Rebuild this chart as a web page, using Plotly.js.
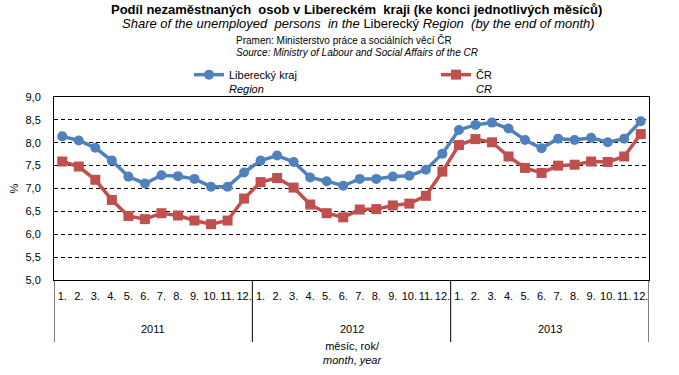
<!DOCTYPE html>
<html><head><meta charset="utf-8">
<script src="https://cdn.plot.ly/plotly-3.0.1.min.js"></script>
<style>body{margin:0;background:#fff}#chart{width:679px;height:375px}</style>
</head><body><div id="chart"></div>
<script>
const years = ['2011','2012','2013'];
const months = ['1.','2.','3.','4.','5.','6.','7.','8.','9.','10.','11.','12.'];
const liberec = [8.14,8.05,7.89,7.61,7.26,7.11,7.29,7.27,7.21,7.04,7.04,7.35,
                 7.61,7.72,7.58,7.24,7.16,7.06,7.21,7.21,7.26,7.28,7.41,7.76,
                 8.28,8.39,8.44,8.31,8.06,7.88,8.09,8.06,8.11,8.01,8.09,8.47];
const cr = [7.59,7.48,7.19,6.75,6.40,6.33,6.46,6.41,6.30,6.22,6.30,6.78,
            7.14,7.23,7.02,6.65,6.46,6.37,6.54,6.55,6.63,6.67,6.84,7.37,
            7.95,8.08,8.01,7.70,7.45,7.34,7.50,7.52,7.59,7.58,7.70,8.19];
const yTicks = [5,5.5,6,6.5,7,7.5,8,8.5,9];

const xCat = [], xText = [];
years.forEach(y => months.forEach(m => { xCat.push(y + ' ' + m); xText.push(m); }));
const nCat = xCat.length, nM = months.length;

const font = 'Liberation Sans, Arial, sans-serif';
const T = 97, B = 280, H = B - T;
const py = px => (B - px) / H;   // container pixel row -> paper y

const traces = [
  {x:xCat, y:liberec, name:'Liberecký kraj<br><i>Region</i>', type:'scatter', mode:'lines+markers',
   line:{color:'#4F81BD', width:3.5}, marker:{symbol:'circle', size:10, color:'#4F81BD'}},
  {x:xCat, y:cr, name:'ČR<br><i>CR</i>', type:'scatter', mode:'lines+markers',
   line:{color:'#C0504D', width:3.5}, marker:{symbol:'square', size:10, color:'#C0504D'}}
];

const shapes = [], annotations = [];
for (let g = 0; g <= years.length; g++) {
  shapes.push({type:'line', xref:'x', yref:'paper', x0:g*nM-0.5, x1:g*nM-0.5, y0:0, y1:py(342),
               line:{color:'#000', width:1}});
}
years.forEach((y, g) => annotations.push({text:y, xref:'x', yref:'paper', x:g*nM + (nM-1)/2, y:py(329),
  xanchor:'center', yanchor:'middle', showarrow:false, font:{size:11, family:font}}));

annotations.push(
  {text:'<b>Podíl nezaměstnaných  osob v Libereckém  kraji (ke konci jednotlivých měsíců)</b>', xref:'paper', yref:'paper',
   x:(356-54)/595, y:py(10), xanchor:'center', yanchor:'middle', showarrow:false, font:{size:13, family:font}},
  {text:'<i>Share of the unemployed  persons  in the</i> Liberecký <i>Region  (by the end of month)</i>', xref:'paper', yref:'paper',
   x:(358-54)/595, y:py(23), xanchor:'center', yanchor:'middle', showarrow:false, font:{size:13, family:font}},
  {text:'Pramen: Ministerstvo práce a sociálních věcí ČR', xref:'paper', yref:'paper',
   x:(234-54)/595, y:py(40), xanchor:'left', yanchor:'middle', showarrow:false, font:{size:10, family:font}},
  {text:'<i>Source: Ministry of Labour and Social Affairs of the CR</i>', xref:'paper', yref:'paper',
   x:(234-54)/595, y:py(53), xanchor:'left', yanchor:'middle', showarrow:false, font:{size:10, family:font}},
  {text:'měsíc, rok/<br><i>month</i>, <i>year</i>', xref:'paper', yref:'paper',
   x:(352-54)/595, y:py(353), xanchor:'center', yanchor:'middle', showarrow:false, font:{size:11, family:font}}
);

const layout = {
  width:679, height:375, separators:', ',
  margin:{l:54, r:30, t:T, b:375-B, autoexpand:false},
  paper_bgcolor:'#fff', plot_bgcolor:'#fff',
  font:{family:font, size:11, color:'#000'},
  showlegend:true,
  legend:{orientation:'h', x:(189-54)/595, y:py(61), xanchor:'left', yanchor:'top',
          bgcolor:'rgba(0,0,0,0)',
          entrywidth:202, entrywidthmode:'pixels', valign:'top', font:{size:11, family:font}, tracegroupgap:0},
  xaxis:{type:'category', automargin:false, range:[-0.5, nCat-0.5], tickvals:xCat, ticktext:xText,
         showline:true, linecolor:'#000', linewidth:1, mirror:true,
         showgrid:false, ticks:'', tickangle:0, tickfont:{size:11, family:font}, ticklabelstandoff:6},
  yaxis:{range:[5,9], automargin:false, tickvals:yTicks, tickformat:'.1f', showline:true, linecolor:'#000', linewidth:1, mirror:true,
         showgrid:true, gridcolor:'#000', griddash:'4px,3px', gridwidth:1, zeroline:false, ticks:'',
         ticklabelstandoff:10, tickfont:{size:11, family:font},
         title:{text:'%', font:{size:11, family:font}, standoff:4}},
  shapes:shapes, annotations:annotations
};
Plotly.newPlot('chart', traces, layout, {displayModeBar:false, staticPlot:true});
</script></body></html>
